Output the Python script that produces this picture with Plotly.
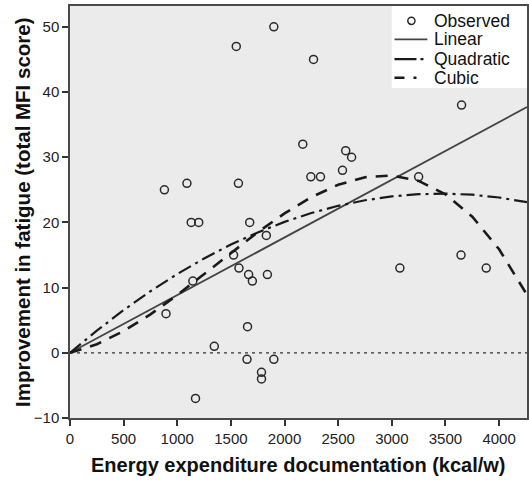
import plotly.graph_objects as go

# Observed points (energy expenditure kcal/w, improvement in MFI score)
obs_x = [1900, 1550, 880, 1090, 1570, 2270, 2170, 2570, 2625, 2540, 2245, 2335,
         3650, 3250, 1130, 1200, 1675, 1830, 1525, 1575, 1665, 1700, 1840, 1145,
         895, 1655, 1345, 1650, 1900, 1785, 1785, 1170, 3075, 3645, 3880]
obs_y = [50, 47, 25, 26, 26, 45, 32, 31, 30, 28, 27, 27,
         38, 27, 20, 20, 20, 18, 15, 13, 12, 11, 12, 11,
         6, 4, 1, -1, -1, -3, -4, -7, 13, 15, 13]

# Fitted curves
fit_x = [0, 250, 500, 750, 1000, 1250, 1500, 1750, 2000, 2250, 2500, 2750,
         3000, 3250, 3500, 3750, 4000, 4260]
linear_y = [0, 2.21, 4.43, 6.64, 8.85, 11.06, 13.28, 15.49, 17.70, 19.91, 22.13, 24.34,
            26.55, 28.76, 30.98, 33.19, 35.40, 37.70]
quad_y = [0, 3.40, 6.55, 9.45, 12.09, 14.47, 16.60, 18.47, 20.08, 21.44, 22.55, 23.40,
          23.99, 24.33, 24.42, 24.25, 23.82, 23.10]
cubic_y = [0, 1.31, 3.33, 5.90, 8.87, 12.06, 15.32, 18.49, 21.39, 23.88, 25.78, 26.94,
           27.19, 26.37, 24.32, 20.88, 15.88, 8.90]

x_ticks = [0, 500, 1000, 1500, 2000, 2500, 3000, 3500, 4000]
y_ticks = [-10, 0, 10, 20, 30, 40, 50]

legend_names = ["Observed", "Linear", "Quadratic", "Cubic"]

FONT = "Liberation Sans"
INK = "#2a2a2a"
LIN_STYLE = dict(color="#444444", width=1.8)
QUAD_STYLE = dict(color="#1a1a1a", width=2.2, dash="14px,5px,3px,5px")
CUB_STYLE = dict(color="#1a1a1a", width=2.6, dash="12px,9px")

fig = go.Figure()

# zero reference line
fig.add_trace(go.Scatter(x=[0, 4260], y=[0, 0], mode="lines",
                         line=dict(color="#333333", width=1.2, dash="3px,4px"),
                         showlegend=False, hoverinfo="skip"))

fig.add_trace(go.Scatter(x=obs_x, y=obs_y, mode="markers", name=legend_names[0],
                         showlegend=False,
                         marker=dict(symbol="circle-open", size=8, color=INK,
                                     line=dict(width=1.5, color=INK))))
fig.add_trace(go.Scatter(x=fit_x, y=linear_y, mode="lines", name=legend_names[1],
                         showlegend=False, line=LIN_STYLE))
fig.add_trace(go.Scatter(x=fit_x, y=quad_y, mode="lines", name=legend_names[2],
                         showlegend=False, line=QUAD_STYLE))
fig.add_trace(go.Scatter(x=fit_x, y=cubic_y, mode="lines", name=legend_names[3],
                         showlegend=False, line=CUB_STYLE))

axis_common = dict(
    showgrid=False, zeroline=False, showline=True, mirror=True,
    linecolor="#4a4a4a", linewidth=1.5, automargin=False,
    ticks="outside", ticklen=6, tickwidth=1.5, tickcolor="#333333",
    tickfont=dict(family=FONT, size=15, color="#222222"),
)

# ---- compact legend box (paper coordinates) ----
box_x0, box_y0 = 0.704, 0.801
row_y = [0.964, 0.919, 0.871, 0.826]
sym_x0, sym_x1, sym_xc = 0.710, 0.782, 0.747
text_x = 0.795

shapes = [dict(type="rect", xref="paper", yref="paper", x0=box_x0, x1=1, y0=box_y0, y1=1,
               fillcolor="white", line=dict(width=0), layer="above")]
cw = 3.6 / 458.0
ch = 3.6 / 412.0
shapes.append(dict(type="circle", xref="paper", yref="paper",
                   x0=sym_xc - cw, x1=sym_xc + cw, y0=row_y[0] - ch, y1=row_y[0] + ch,
                   line=dict(color=INK, width=1.5), fillcolor="rgba(0,0,0,0)", layer="above"))
shapes.append(dict(type="line", xref="paper", yref="paper", x0=sym_x0, x1=sym_x1,
                   y0=row_y[1], y1=row_y[1], line=LIN_STYLE, layer="above"))
shapes.append(dict(type="line", xref="paper", yref="paper", x0=sym_x0, x1=sym_x1,
                   y0=row_y[2], y1=row_y[2],
                   line=dict(color="#1a1a1a", width=2.2, dash="22px,4px,3px,20px"), layer="above"))
shapes.append(dict(type="line", xref="paper", yref="paper", x0=sym_x0, x1=sym_x1,
                   y0=row_y[3], y1=row_y[3],
                   line=dict(color="#1a1a1a", width=2.4, dash="10px,9px,3px,20px"), layer="above"))

annotations = [
    dict(text="<b>Energy expenditure documentation (kcal/w)</b>",
         xref="paper", yref="paper", x=0.5, y=0, yshift=-47,
         xanchor="center", yanchor="middle", showarrow=False,
         font=dict(family=FONT, size=20, color="#111111")),
    dict(text="<b>Improvement in fatigue (total MFI score)</b>",
         xref="paper", yref="paper", x=0, y=0.5, xshift=-48,
         xanchor="center", yanchor="middle", showarrow=False, textangle=-90,
         font=dict(family=FONT, size=20.5, color="#111111")),
]
for name, ry in zip(legend_names, row_y):
    annotations.append(dict(text=name, xref="paper", yref="paper", x=text_x, y=ry,
                            xanchor="left", yanchor="middle", showarrow=False,
                            borderpad=0,
                            font=dict(family=FONT, size=17.5, color="#111111")))

fig.update_layout(
    width=529, height=482,
    margin=dict(l=70, r=2, t=6, b=64),
    paper_bgcolor="white",
    plot_bgcolor="#ebebeb",
    font=dict(family=FONT, color="#111111"),
    xaxis=dict(range=[0, 4260], tickvals=x_ticks, **axis_common),
    yaxis=dict(range=[-10, 53.2], tickvals=y_ticks, **axis_common),
    showlegend=False,
    shapes=shapes,
    annotations=annotations,
)

fig.write_html("out.html", config={"displayModeBar": False},
               post_script="document.body.style.margin='0';")
